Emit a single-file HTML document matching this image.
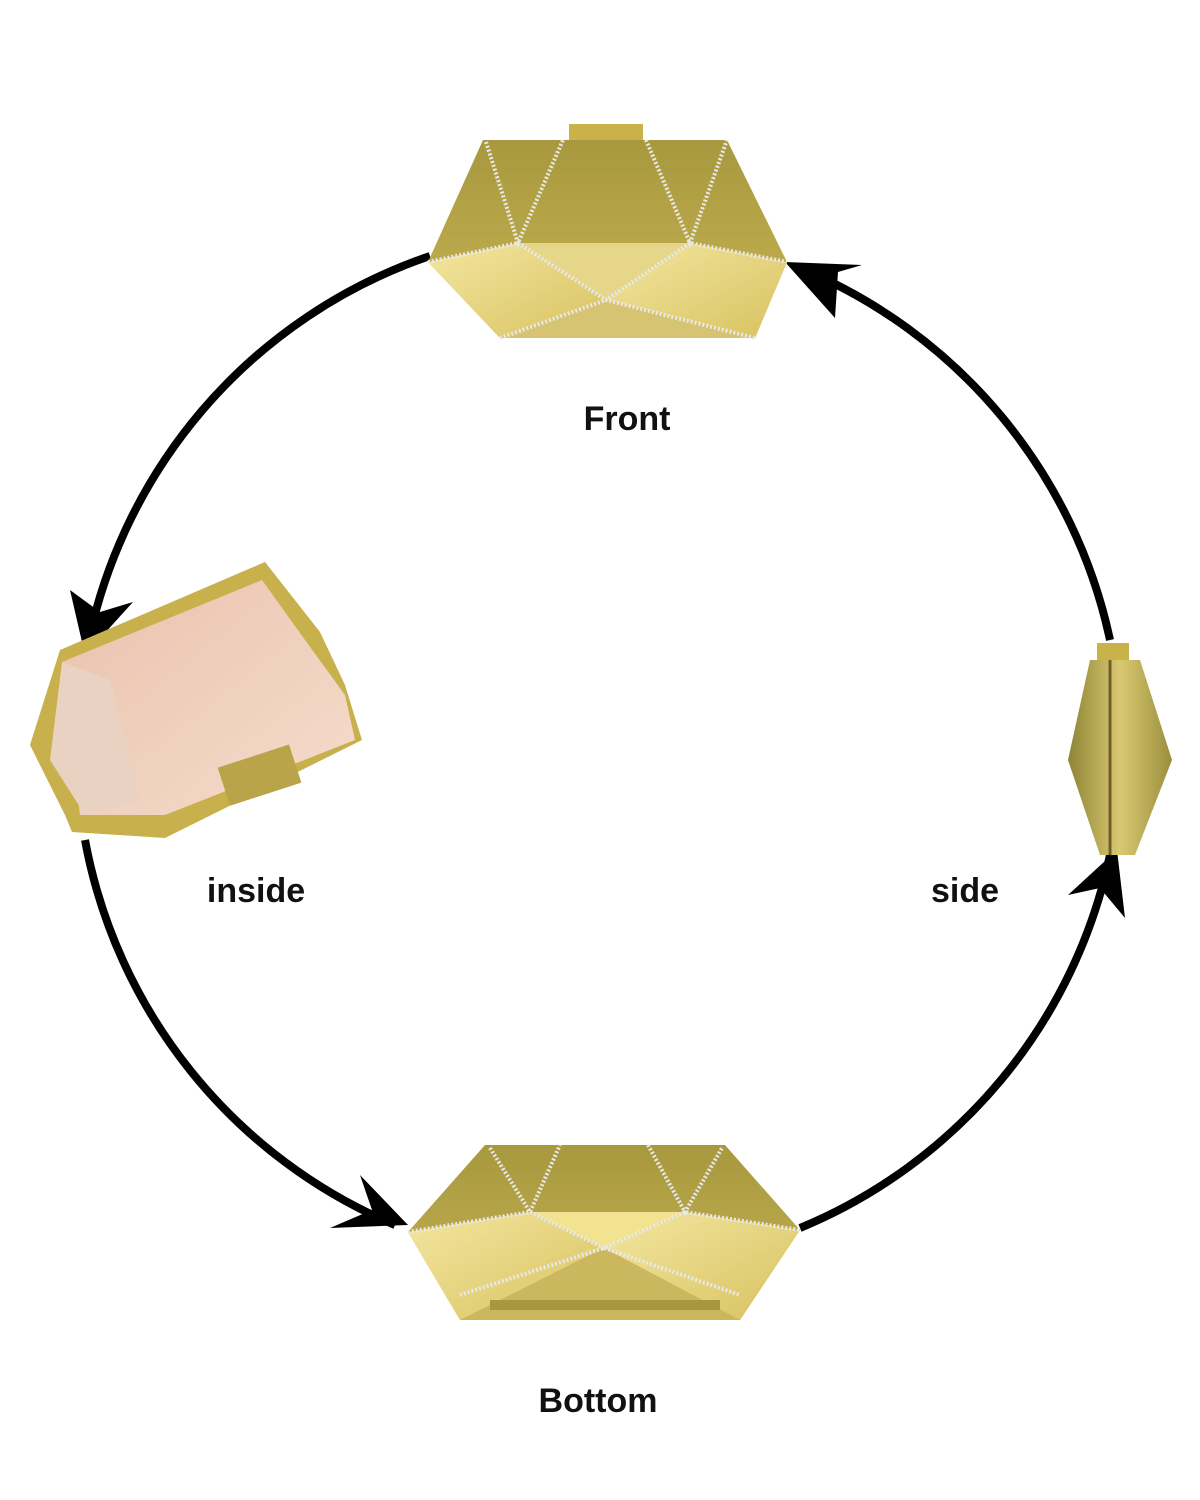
<!DOCTYPE html>
<html><head><meta charset="utf-8"><style>
html,body{margin:0;padding:0;background:#fff;}
svg{display:block}
text{font-family:"Liberation Sans",sans-serif;font-size:34px;font-weight:bold;fill:#111;}
</style></head><body>
<svg width="1200" height="1500" viewBox="0 0 1200 1500" xmlns="http://www.w3.org/2000/svg">
<defs>
<linearGradient id="g1" x1="0" y1="0" x2="0" y2="1"><stop offset="0" stop-color="#a8983e"/><stop offset="1" stop-color="#c7b454"/></linearGradient>
<linearGradient id="g2" x1="0" y1="0" x2="1" y2="1"><stop offset="0" stop-color="#f3e6a0"/><stop offset="1" stop-color="#d8c260"/></linearGradient>
<linearGradient id="g3" x1="0" y1="0" x2="1" y2="0"><stop offset="0" stop-color="#8e8436"/><stop offset="0.5" stop-color="#d9c870"/><stop offset="1" stop-color="#9a8e3e"/></linearGradient>
<linearGradient id="pk" x1="0" y1="0" x2="1" y2="1"><stop offset="0" stop-color="#e9c3ae"/><stop offset="1" stop-color="#f6dccc"/></linearGradient>
</defs>
<g fill="none" stroke="#000" stroke-width="8">
<path d="M430 256 A520 520 0 0 0 85 660"/>
<path d="M85 840 A520 520 0 0 0 395 1225"/>
<path d="M800 1228 A520 520 0 0 0 1110 855"/>
<path d="M1110 640 A520 520 0 0 0 800 268"/>
</g>
<g fill="#000">
<polygon points="785,262 862,265 838,272 835,318"/>
<polygon points="85,655 70,590 100,612 133,602"/>
<polygon points="408,1225 360,1175 372,1210 330,1228"/>
<polygon points="1117,850 1068,895 1100,888 1125,918"/>
</g>
<rect x="569" y="124" width="74" height="17" fill="#c9b24a"/>
<polygon points="483,140 727,140 787,262 755,338 500,338 428,262" fill="url(#g1)"/>
<polygon points="428,262 518,243 606,300 500,338" fill="url(#g2)"/>
<polygon points="518,243 690,243 606,300" fill="#e6d68a"/>
<polygon points="690,243 787,262 755,338 606,300" fill="url(#g2)"/>
<polygon points="500,338 606,300 755,338" fill="#d6c472"/>
<g stroke="#e8e8e8" stroke-width="4" stroke-dasharray="2 2" fill="none">
<path d="M486 142 L518 243 L563 140 M646 140 L690 243 L727 140 M428 262 L518 243 L606 300 L690 243 L787 262 M500 338 L606 300 L755 338"/>
</g>
<rect x="1097" y="643" width="32" height="18" fill="#c9b24a"/>
<polygon points="1090,660 1140,660 1172,760 1135,855 1100,855 1068,760" fill="url(#g3)"/>
<line x1="1110" y1="660" x2="1110" y2="855" stroke="#6b6128" stroke-width="3"/>
<polygon points="485,1145 725,1145 800,1230 740,1320 460,1320 408,1232" fill="url(#g1)"/>
<polygon points="408,1232 530,1212 604,1248 460,1320" fill="url(#g2)"/>
<polygon points="530,1212 685,1212 604,1248" fill="#f1e390"/>
<polygon points="685,1212 800,1230 740,1320 604,1248" fill="url(#g2)"/>
<polygon points="460,1320 604,1248 740,1320" fill="#cbb85e"/>
<rect x="490" y="1300" width="230" height="10" fill="#a9963e"/>
<g stroke="#e8e8e8" stroke-width="4" stroke-dasharray="2 2" fill="none">
<path d="M490 1148 L530 1212 L560 1145 M648 1145 L685 1212 L722 1148 M408 1232 L530 1212 L604 1248 L685 1212 L800 1230 M460 1295 L604 1248 L740 1295"/>
</g>
<polygon points="30,745 60,650 265,562 320,632 345,685 362,740 165,838 72,832 65,815" fill="#c8b14c"/>
<polygon points="62,662 262,580 305,640 345,695 355,740 165,815 80,815" fill="url(#pk)"/>
<polygon points="62,662 110,680 140,800 85,815 50,760" fill="#e9d2c2"/>
<rect x="222" y="755" width="75" height="40" fill="#b9a44a" transform="rotate(-18 260 775)"/>
<text x="627" y="430" text-anchor="middle">Front</text>
<text x="256" y="902" text-anchor="middle">inside</text>
<text x="965" y="902" text-anchor="middle">side</text>
<text x="598" y="1412" text-anchor="middle">Bottom</text>
</svg>
</body></html>
